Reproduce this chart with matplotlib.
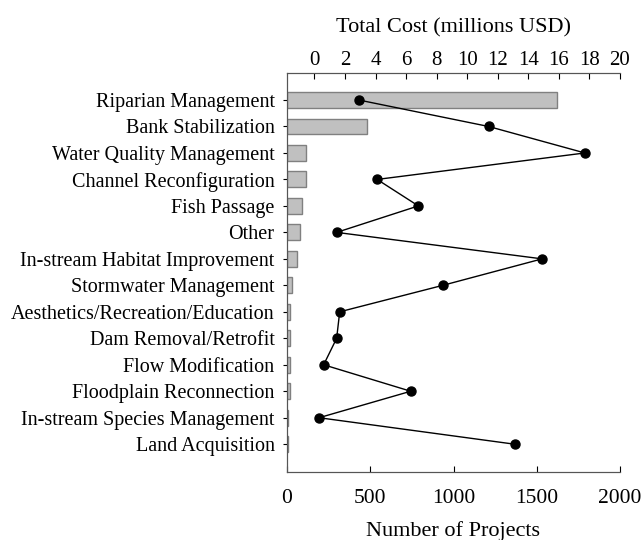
import matplotlib.pyplot as plt

categories = ['Riparian Management', 'Bank Stabilization', 'Water Quality Management',
              'Channel Reconfiguration', 'Fish Passage', 'Other',
              'In-stream Habitat Improvement', 'Stormwater Management',
              'Aesthetics/Recreation/Education', 'Dam Removal/Retrofit',
              'Flow Modification', 'Floodplain Reconnection',
              'In-stream Species Management', 'Land Acquisition']
projects = [1623, 482, 114, 112, 92, 76, 62, 28, 18, 18, 16, 16, 6, 6]
cost = [2.9, 11.4, 17.7, 4.1, 6.8, 1.45, 14.9, 8.4, 1.65, 1.45, 0.6, 6.3, 0.3, 13.1]

plt.rcParams['font.family'] = 'Liberation Serif'
plt.rcParams['font.size'] = 15

fig = plt.figure(figsize=(6.42, 5.4), dpi=100)
ax = fig.add_axes([287/642, 1-472/540, 333/642, 399/540])
pos = list(range(len(categories)))

# bars: number of projects (bottom axis)
ax.barh(pos, projects, height=0.6, color='#c0c0c0', edgecolor='#808080', linewidth=1)
ax.set_xlim(0, 2000)
ax.set_ylim(14.05, -1.02)
ax.set_yticks(pos)
ax.set_yticklabels(categories, fontsize=14.5)
ax.set_xticks([0, 500, 1000, 1500, 2000])
ax.set_xlabel('Number of Projects', fontsize=16, labelpad=10)
ax.tick_params(axis='x', direction='in', length=4, pad=12, labelsize=15.5)
ax.tick_params(axis='y', direction='out', length=3, pad=6)
ax.spines['right'].set_visible(False)

# line: total cost (top axis)
ax2 = ax.twiny()
ax2.plot(cost, pos, color='black', linewidth=1, marker='o', markersize=6.5)
ax2.set_xlim(-1.8, 20)
ax2.set_xticks(range(0, 21, 2))
ax2.set_xlabel('Total Cost (millions USD)', fontsize=16, labelpad=13)
ax2.tick_params(axis='x', direction='in', length=4, pad=2.5, labelsize=15)
ax2.spines['right'].set_visible(False)
for a in (ax, ax2):
    for s in a.spines.values():
        s.set_color('#555555')

fig.savefig('out.png', dpi=100)
